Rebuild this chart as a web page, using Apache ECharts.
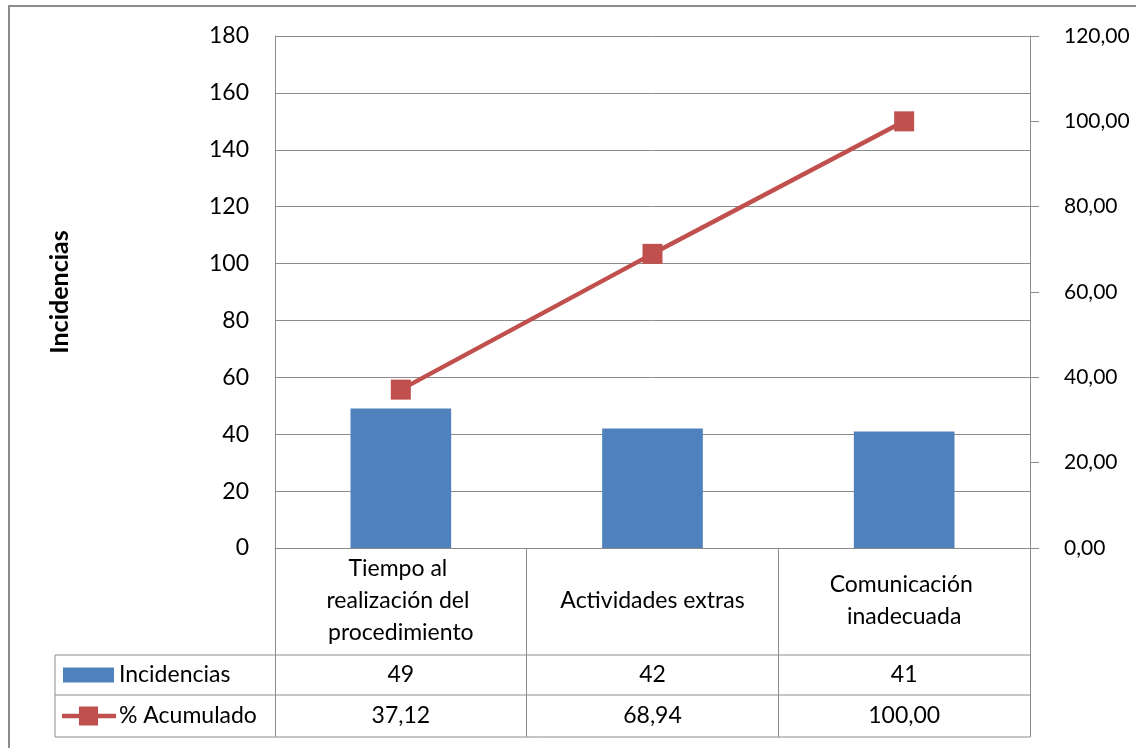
<!DOCTYPE html>
<html>
<head>
<meta charset="utf-8">
<script src="https://cdn.jsdelivr.net/npm/echarts@6/dist/echarts.min.js"></script>
<style>
  html, body { margin: 0; padding: 0; background: #fff; }
  #chart { width: 1136px; height: 748px; }
</style>
</head>
<body>
<div id="chart"></div>
<script>
// Pareto data: incidences per cause and cumulative percentage
const categories = ['Tiempo al realización del procedimiento', 'Actividades extras', 'Comunicación inadecuada'];
const incidencias = [49, 42, 41];
const acumulado = [37.12, 68.94, 100.00];
const seriesNames = ['Incidencias', '% Acumulado'];
const axisTitle = 'Incidencias';
const leftAxis = { min: 0, max: 180, interval: 20 };
const rightAxis = { min: 0, max: 120, interval: 20 };

const FONT = 'Lato';
const FS = 23;
const GRAY = '#8c8c8c';
const BLUE = '#4F81BD';
const RED = '#C0504D';

const fmtComma = v => Number(v).toFixed(2).replace('.', ',');

const chart = echarts.init(document.getElementById('chart'));

const option = {
  animation: false,
  backgroundColor: '#fff',
  textStyle: { fontFamily: FONT },
  grid: { left: 275, right: 106, top: 36, bottom: 200, outerBoundsMode: 'none', containLabel: false },
  xAxis: {
    type: 'category',
    data: categories,
    axisLine: { lineStyle: { color: GRAY, width: 1 } },
    axisTick: { show: true, length: 189, lineStyle: { color: GRAY, width: 1 } },
    axisLabel: {
      interval: 0, width: 195, overflow: 'break',
      lineHeight: 32, fontSize: FS, color: '#000',
      fontFamily: FONT, verticalAlign: 'middle', margin: 53
    }
  },
  yAxis: [
    {
      type: 'value',
      min: leftAxis.min, max: leftAxis.max, interval: leftAxis.interval,
      axisLine: { show: true, lineStyle: { color: GRAY } },
      axisTick: { show: false },
      splitLine: { lineStyle: { color: GRAY, width: 1 } },
      axisLabel: { fontSize: FS, color: '#000', margin: 26, fontFamily: FONT }
    },
    {
      type: 'value', position: 'right',
      min: rightAxis.min, max: rightAxis.max, interval: rightAxis.interval,
      axisLine: { show: true, lineStyle: { color: GRAY } },
      axisTick: { show: true, length: 9, lineStyle: { color: GRAY } },
      splitLine: { show: false },
      axisLabel: { fontSize: 21, color: '#000', margin: 34, fontFamily: FONT, formatter: fmtComma }
    }
  ],
  series: [
    {
      name: seriesNames[0], type: 'bar', data: incidencias,
      barWidth: '40%', itemStyle: { color: BLUE }
    },
    {
      name: seriesNames[1], type: 'line', yAxisIndex: 1, data: acumulado,
      symbol: 'rect', symbolSize: 20,
      itemStyle: { color: RED },
      lineStyle: { color: RED, width: 4.5 }
    }
  ]
};

chart.setOption(option);

// Data table beneath the plot: frame, rows, legend keys and value cells
const tableLeft = 55, rowTop = 655, rowMid = 695, rowBottom = 737;
const plotRight = chart.convertToPixel({ xAxisIndex: 0 }, categories[categories.length - 1]) +
  (chart.convertToPixel({ xAxisIndex: 0 }, categories[1]) - chart.convertToPixel({ xAxisIndex: 0 }, categories[0])) / 2;
const lineStyle = { stroke: GRAY, lineWidth: 1 };
const row1 = (rowTop + rowMid) / 2, row2 = (rowMid + rowBottom) / 2;
const textStyle = (text, align) => ({ text: text, fontSize: FS, fontFamily: FONT, fill: '#000', align: align, verticalAlign: 'middle' });

const elements = [
  { type: 'rect', shape: { x: 9, y: 6, width: 1200, height: 800 }, style: { fill: 'none', stroke: GRAY, lineWidth: 2 }, silent: true },
  { type: 'line', shape: { x1: tableLeft, y1: rowTop, x2: plotRight, y2: rowTop }, style: lineStyle },
  { type: 'line', shape: { x1: tableLeft, y1: rowMid, x2: plotRight, y2: rowMid }, style: lineStyle },
  { type: 'line', shape: { x1: tableLeft, y1: rowBottom, x2: plotRight, y2: rowBottom }, style: lineStyle },
  { type: 'line', shape: { x1: tableLeft, y1: rowTop, x2: tableLeft, y2: rowBottom }, style: lineStyle },
  // legend keys
  { type: 'rect', shape: { x: 63, y: row1 - 7.5, width: 51, height: 15 }, style: { fill: BLUE } },
  { type: 'line', shape: { x1: 62, y1: row2, x2: 116, y2: row2 }, style: { stroke: RED, lineWidth: 4.5 } },
  { type: 'rect', shape: { x: 79, y: row2 - 9.5, width: 19, height: 19 }, style: { fill: RED } },
  { type: 'text', x: 119, y: row1, style: textStyle(seriesNames[0], 'left') },
  { type: 'text', x: 119, y: row2, style: textStyle(seriesNames[1], 'left') },
  // vertical axis title
  { type: 'text', x: 60, y: 292, rotation: Math.PI / 2,
    style: { text: axisTitle, fontSize: 25, fontWeight: 'bold', fontFamily: FONT, fill: '#000', align: 'center', verticalAlign: 'middle' } }
];
categories.forEach((c, i) => {
  const x = chart.convertToPixel({ xAxisIndex: 0 }, c);
  elements.push({ type: 'text', x: x, y: row1, style: textStyle(String(incidencias[i]), 'center') });
  elements.push({ type: 'text', x: x, y: row2, style: textStyle(fmtComma(acumulado[i]), 'center') });
});
chart.setOption({ graphic: { elements: elements } });
</script>
</body>
</html>
